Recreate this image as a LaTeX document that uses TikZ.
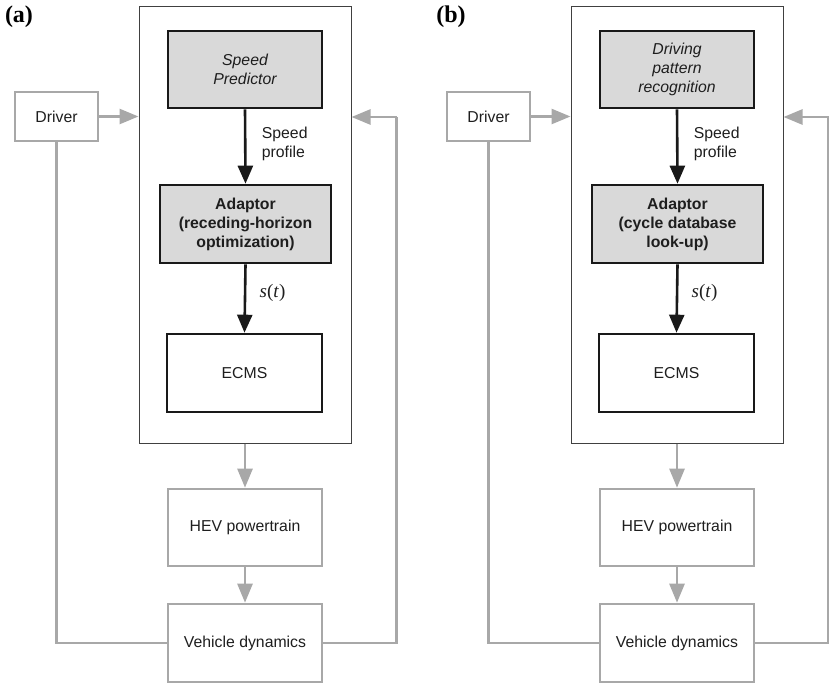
\documentclass[tikz,border=0pt]{standalone}
\usepackage{fontspec}
\setmainfont{Liberation Sans}
\newfontfamily\labelserif{Liberation Serif}
\usetikzlibrary{arrows.meta}
\definecolor{linegray}{HTML}{A8A8A8}
\definecolor{boxfill}{HTML}{D9D9D9}
\definecolor{txt}{HTML}{1E1E1E}
\tikzset{
  every node/.style={font=\fontsize{15.8}{19}\selectfont, text=txt},
  outerbox/.style={draw=black!75, line width=1pt, inner sep=0pt, minimum width=212pt, minimum height=436pt},
  shadedbox/.style={draw=black!90, fill=boxfill, line width=2.6pt, inner sep=0pt, align=center},
  blackbox/.style={draw=black!90, line width=2.6pt, inner sep=0pt, align=center},
  graybox/.style={draw=linegray, line width=2.6pt, inner sep=0pt, align=center},
  blackarrow/.style={draw=black!90, line width=2.6pt, -{Triangle[length=18pt,width=15pt]}},
  grayarrow/.style={draw=linegray, line width=2.6pt, -{Triangle[length=19pt,width=15pt]}},
  grayline/.style={draw=linegray, line width=2.6pt},
  paneltag/.style={font=\labelserif\bfseries\fontsize{24}{24}\selectfont, text=black, inner sep=0pt},
}
\newcommand\drawpanelbody[3]{%
  \node[paneltag] (tag) at (19,17) {#1};
  \node[outerbox] (outer) at (245,225) {};
  \node[shadedbox, minimum width=154pt, minimum height=77pt, font=\itshape\fontsize{15.8}{19}\selectfont] (sp) at (245,69.5) {#2};
  \node[shadedbox, minimum width=171pt, minimum height=78pt, font=\bfseries\fontsize{15.8}{19}\selectfont] (ad) at (245.5,224) {#3};
  \node[blackbox, minimum width=155pt, minimum height=78pt] (ecms) at (244.5,373) {ECMS};
  \node[graybox, minimum width=154pt, minimum height=77pt] (hev) at (245,527.5) {HEV powertrain};
  \node[graybox, minimum width=154pt, minimum height=78pt] (veh) at (245,643) {Vehicle dynamics};
  \node[graybox, minimum width=83pt, minimum height=49pt] (drv) at (56.5,116.5) {Driver};
  \coordinate (rc) at (396.5,117);
  \draw[blackarrow] (sp.south) -- node[right=12pt, align=left, pos=0.47] (splab) {Speed\\profile} (ad.north);
  \draw[blackarrow] (ad.south) -- node[right=10pt, pos=0.42, font=\labelserif\fontsize{19}{19}\selectfont] (stlab) {\textit{s}(\textit{t})} (ecms.north);
  \draw[grayarrow] (drv.east) -- (drv.east -| outer.west);
  \draw[grayarrow] (outer.south) -- (hev.north);
  \draw[grayarrow] (hev.south) -- (veh.north);
  \draw[grayline] (veh.west) -| (drv.south);
  \draw[grayline] (veh.east) -| (rc);
  \draw[grayarrow] (rc) -- (rc -| outer.east);
}
\begin{document}
\begin{tikzpicture}[x=1pt, y=-1pt]
\useasboundingbox (0,0) rectangle (829,684);
\begin{scope}[name prefix=a-]
\drawpanelbody{(a)}{Speed\\Predictor}{Adaptor\\(receding-horizon\\optimization)}
\end{scope}
\begin{scope}[xshift=432pt, name prefix=b-]
\drawpanelbody{(b)}{Driving\\pattern\\recognition}{Adaptor\\(cycle database\\look-up)}
\end{scope}
\end{tikzpicture}
\end{document}
